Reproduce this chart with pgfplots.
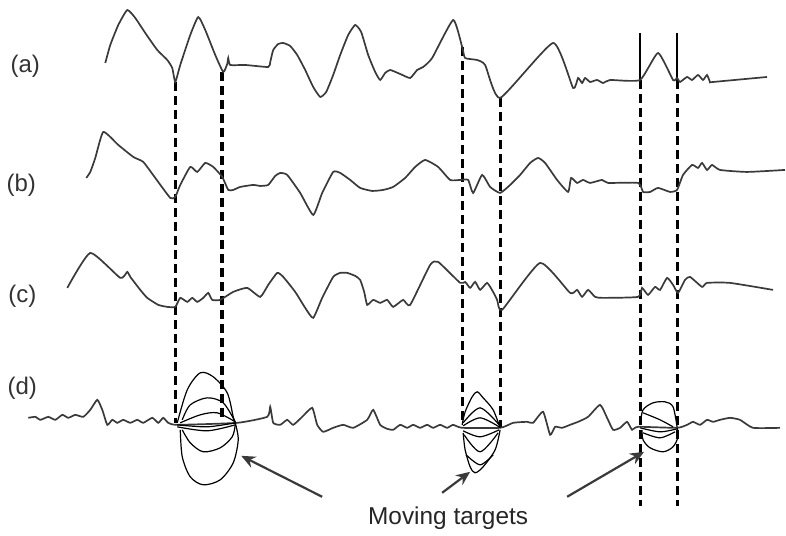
\documentclass[border=0pt]{standalone}
\usepackage{pgfplots}
\pgfplotsset{compat=1.18}
\usepackage{fontspec}
\setmainfont{Liberation Sans}
\usetikzlibrary{arrows.meta}
\definecolor{curve}{HTML}{3A3A3A}
\begin{document}
\begin{tikzpicture}
\begin{axis}[scale only axis, width=393pt, height=266.5pt,
  xmin=0, xmax=786, ymin=0, ymax=533, y dir=reverse, hide axis, clip=false,
  every axis plot/.append style={no markers},
  sig/.style={curve, line width=0.85pt, smooth, tension=0.3}]
\path (axis cs:0,0) (axis cs:786,533);
% dashed guide lines
\addplot[black, line width=1.5pt, dash pattern=on 4.5pt off 2.5pt] coordinates {(175,82) (175,423)};
\addplot[black, line width=2.2pt, dash pattern=on 4.5pt off 2.5pt] coordinates {(222,72) (222,420)};
\addplot[black, line width=1.6pt, dash pattern=on 4.5pt off 2.5pt] coordinates {(462,47) (462,425)};
\addplot[black, line width=1.6pt, dash pattern=on 4.5pt off 2.5pt] coordinates {(500,98) (500,428)};
\addplot[black, line width=1.5pt, dash pattern=on 4.5pt off 2.5pt] coordinates {(640,80) (640,506)};
\addplot[black, line width=1.5pt, dash pattern=on 4.5pt off 2.5pt] coordinates {(677,80) (677,506)};
% solid markers
\addplot[black, line width=0.8pt] coordinates {(640,33) (640,80)};
\addplot[black, line width=0.8pt] coordinates {(677,33) (677,80)};
% curve (a)
\addplot[sig] coordinates {
(105,63) (110,45) (118,25) (127,10) (135,18) (145,33) (157,50) (167,60) (172,68) (175,82) (180,65) (190,35) (198,17) (205,30) (215,55) (223,72) (227,64) (228,58) (230,65) (245,65) (268,67) (270,62) (273,50) (278,44) (283,43) (290,46) (297,55) (305,70) (313,87) (320,97) (326,92) (333,75) (340,55) (348,35) (355,25) (361,32) (368,55) (375,72) (380,80) (385,73) (390,70) (400,74) (410,78) (417,70) (423,67) (432,58) (453,20) (462,47) (465,58) (477,60) (485,65) (500,98) (553,43) (573,88) (578,78) (582,83) (585,78) (590,82) (597,80) (603,83) (610,80) (640,80) (658,53) (673,80) (677,78) (680,82) (687,77) (692,80) (698,75) (703,80) (707,75) (710,82) (713,82) (767,77)};
% curve (b)
\addplot[sig] coordinates {
(86,178) (90,172) (95,158) (103,132) (118,145) (133,157) (143,162) (155,178) (170,198) (175,197) (180,185) (190,167) (197,172) (205,163) (213,167) (222,177) (228,190) (233,190) (240,187) (253,185) (260,186) (268,185) (275,176) (280,173) (287,175) (300,193) (313,215) (322,193) (333,172) (340,173) (350,180) (360,188) (372,191) (383,190) (393,187) (405,178) (415,167) (425,160) (438,167) (450,180) (460,180) (468,180) (473,193) (482,175) (490,187) (500,193) (510,185) (520,175) (530,163) (538,158) (545,163) (557,180) (568,192) (571,178) (577,183) (583,180) (590,183) (602,180) (608,183) (638,183) (643,192) (650,192) (658,188) (670,192) (677,190) (683,175) (692,165) (698,168) (702,163) (707,170) (712,165) (720,170) (747,172) (785,170)};
% curve (c)
\addplot[sig] coordinates {
(67,288) (90,253) (120,278) (127,272) (130,277) (140,290) (147,298) (158,305) (167,307) (175,307) (180,298) (187,302) (192,298) (197,302) (203,298) (208,293) (212,300) (220,300) (233,292) (247,288) (260,297) (268,285) (277,273) (283,277) (295,292) (305,308) (313,318) (322,298) (333,277) (340,273) (347,273) (355,276) (360,280) (364,292) (367,305) (373,300) (380,303) (387,300) (393,307) (403,300) (410,305) (430,265) (438,262) (460,283) (465,282) (470,288) (475,282) (480,290) (487,283) (493,292) (497,300) (502,310) (540,263) (570,293) (577,290) (582,297) (588,290) (595,297) (603,298) (638,297) (642,288) (648,295) (655,287) (660,290) (667,278) (673,285) (678,293) (685,280) (690,277) (702,287) (707,283) (730,283) (773,290)};
% curve (d)
\addplot[sig] coordinates {
(28,418) (35,417) (40,420) (48,417) (55,420) (62,415) (68,418) (75,415) (83,417) (90,410) (97,400) (102,410) (107,425) (112,420) (117,423) (123,420) (130,423) (137,420) (143,423) (152,418) (158,423) (163,418) (168,423) (177,425) (237,423) (267,417) (270,407) (273,423) (280,425) (287,420) (293,425) (302,417) (312,408) (317,425) (323,432) (333,428) (343,425) (353,428) (367,420) (373,410) (380,425) (387,429) (393,430) (400,425) (407,428) (413,425) (420,428) (427,425) (433,428) (440,425) (447,428) (453,425) (462,428) (500,428) (513,423) (527,422) (533,423) (543,412) (550,435) (555,427) (562,428) (570,425) (578,422) (588,417) (600,405) (607,418) (613,430) (620,428) (627,422) (632,430) (638,427) (677,428) (687,425) (693,422) (700,425) (707,420) (713,422) (720,420) (730,418) (740,420) (753,428) (780,428)};
% moving targets, left
\addplot[black, line width=0.6pt, smooth] coordinates {(177,423) (187,390) (200,373) (213,377) (227,393) (233,417) (235,423)};
\addplot[black, line width=0.6pt, smooth] coordinates {(180,430) (182,457) (190,477) (203,485) (220,480) (233,463) (238,440) (235,423)};
\addplot[black, line width=0.6pt, smooth] coordinates {(182,420) (190,405) (207,398) (223,403) (235,422)};
\addplot[black, line width=0.6pt, smooth] coordinates {(180,423) (200,415) (217,413) (235,422)};
\addplot[black, line width=0.6pt, smooth] coordinates {(177,425) (207,427) (235,423)};
\addplot[black, line width=0.6pt, smooth] coordinates {(177,427) (207,431) (235,425)};
\addplot[black, line width=0.6pt, smooth] coordinates {(182,430) (190,443) (203,452) (220,448) (232,437) (235,425)};
% moving targets, middle
\addplot[black, line width=0.6pt, smooth] coordinates {(462,425) (465,412) (472,397) (477,392) (483,398) (493,410) (500,428)};
\addplot[black, line width=0.6pt, smooth] coordinates {(463,433) (465,450) (470,467) (475,473) (483,467) (495,450) (500,430)};
\addplot[black, line width=0.6pt, smooth] coordinates {(463,423) (480,408) (499,425)};
\addplot[black, line width=0.6pt, smooth] coordinates {(463,426) (480,418) (499,427)};
\addplot[black, line width=0.6pt, smooth] coordinates {(463,431) (480,437) (499,430)};
\addplot[black, line width=0.6pt, smooth] coordinates {(464,435) (480,452) (498,433)};
\addplot[black, line width=0.6pt, smooth] coordinates {(466,455) (480,465) (493,455)};
% moving targets, right
\addplot[black, line width=0.6pt, smooth] coordinates {(640,425) (643,410) (653,403) (665,402) (673,407) (677,427)};
\addplot[black, line width=0.6pt, smooth] coordinates {(642,430) (643,440) (650,448) (663,452) (673,447) (678,437) (677,428)};
\addplot[black, line width=0.6pt, smooth] coordinates {(643,413) (660,420) (673,427)};
\addplot[black, line width=0.6pt, smooth] coordinates {(640,428) (660,432) (677,429)};
\addplot[black, line width=0.6pt, smooth] coordinates {(643,433) (660,438) (675,432)};
% arrows
\addplot[curve, line width=1.1pt, -{Stealth[length=7pt,width=6pt]}] coordinates {(322,497) (241,456)};
\addplot[curve, line width=1.1pt, -{Stealth[length=7pt,width=6pt]}] coordinates {(442,493) (470,472)};
\addplot[curve, line width=1.1pt, -{Stealth[length=7pt,width=6pt]}] coordinates {(567,497) (644,452)};
% labels
\node[text=black!80, font=\fontsize{12}{14}\selectfont] at (axis cs:25,66) {(a)};
\node[text=black!80, font=\fontsize{12}{14}\selectfont] at (axis cs:21,185) {(b)};
\node[text=black!80, font=\fontsize{12}{14}\selectfont] at (axis cs:22,296) {(c)};
\node[text=black!80, font=\fontsize{12}{14}\selectfont] at (axis cs:22,388) {(d)};
\node[text=black!85, font=\fontsize{12.2}{14}\selectfont] at (axis cs:448,518) {Moving targets};
\end{axis}
\end{tikzpicture}
\end{document}
